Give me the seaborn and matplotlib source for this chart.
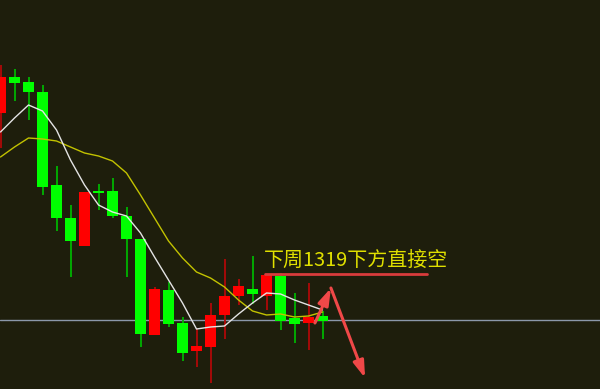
import matplotlib
matplotlib.use("Agg")
import matplotlib.pyplot as plt
import seaborn as sns
import pandas as pd
import numpy as np

# ---- data ----
opens  = [1359.25, 1368.25, 1367.0, 1364.5, 1341.25, 1333.0, 1326.0, 1339.75, 1339.75, 1333.5,
          1327.75, 1303.75, 1315.0, 1306.75, 1299.75, 1300.75, 1308.75, 1313.5, 1315.25, 1313.5,
          1318.5, 1308.0, 1306.75, 1308.5]
highs  = [1371.25, 1370.25, 1368.25, 1366.25, 1346.0, 1336.25, 1339.5, 1341.5, 1343.0, 1335.75,
          1327.75, 1315.75, 1317.0, 1308.25, 1305.25, 1311.75, 1322.75, 1317.75, 1323.5, 1318.75,
          1319.25, 1314.25, 1316.75, 1309.75]
lows   = [1350.5, 1362.25, 1357.5, 1338.75, 1329.75, 1318.25, 1326.0, 1335.0, 1333.0, 1318.25,
          1300.75, 1303.75, 1305.75, 1297.25, 1295.75, 1291.75, 1302.75, 1311.25, 1311.5, 1310.0,
          1305.0, 1301.75, 1300.0, 1302.75]
closes = [1368.25, 1366.75, 1364.5, 1340.75, 1333.0, 1327.25, 1339.5, 1339.25, 1333.5, 1327.75,
          1304.0, 1315.25, 1306.5, 1299.25, 1301.0, 1308.75, 1313.5, 1316.0, 1314.0, 1318.75,
          1307.25, 1306.5, 1308.25, 1307.25]
ma_fast = [1354.5, 1358.0, 1361.25, 1359.75, 1355.0, 1347.5, 1341.25, 1336.25, 1334.5, 1333.5,
           1329.25, 1323.25, 1317.5, 1311.75, 1305.25, 1305.75, 1306.0, 1309.0, 1311.75, 1314.25,
           1314.0, 1312.5, 1311.25, 1310.0]
ma_slow = [1348.25, 1350.75, 1353.0, 1352.75, 1352.25, 1350.75, 1349.25, 1348.5, 1347.25, 1344.25,
           1338.75, 1333.0, 1327.25, 1323.0, 1319.5, 1318.0, 1315.75, 1312.5, 1309.75, 1308.75,
           1309.0, 1308.25, 1308.5, 1309.5]
current_price = 1307.5
target_level = 1319
note_text = "下周1319下方直接空"
# arrow path (bar index, price): up then down
arrow_x = [22.46, 23.6, 26.04]
arrow_y = [1306.75, 1315.5, 1293.0]

BG = "#1e1e0c"
UP_BODY, UP_WICK = "#ff0000", "#b00808"
DN_BODY, DN_WICK = "#00ff00", "#00b400"

sns.set_style("dark", {"axes.facecolor": BG, "figure.facecolor": BG})
plt.rcParams['font.family'] = ['Noto Sans CJK SC', 'DejaVu Sans']

df = pd.DataFrame({"open": opens, "high": highs, "low": lows, "close": closes,
                   "ma_fast": ma_fast, "ma_slow": ma_slow})
df["idx"] = np.arange(len(df))
up = df["close"] >= df["open"]

fig = plt.figure(figsize=(6, 3.89), dpi=100, facecolor=BG)
ax = fig.add_axes([0, 0, 1, 1])
ax.set_facecolor(BG)

ax.axhline(current_price, color="#8b98aa", lw=1.0, zorder=1)

ax.vlines(df["idx"], df["low"], df["high"],
          colors=np.where(up, UP_WICK, DN_WICK), lw=1.3, zorder=2)
bottoms = np.minimum(df["open"], df["close"])
heights = np.maximum((df["open"] - df["close"]).abs(), 0.45)
ax.bar(df["idx"], heights, bottom=bottoms, width=0.72,
       color=np.where(up, UP_BODY, DN_BODY), linewidth=0, zorder=3)

sns.lineplot(data=df, x="idx", y="ma_slow", color="#c2c200", lw=1.0, ax=ax, zorder=4)
sns.lineplot(data=df, x="idx", y="ma_fast", color="#e4e4e4", lw=1.0, ax=ax, zorder=5)

# annotation
ax.text(18.8, target_level + 0.75, note_text, color="#e0e000", fontsize=14.4,
        ha="left", va="bottom", zorder=6)
ax.plot([18.9, 30.46], [target_level, target_level], color="#d83c3c", lw=2, zorder=6)

for i in range(len(arrow_x) - 1):
    ax.annotate("", xy=(arrow_x[i + 1], arrow_y[i + 1]), xytext=(arrow_x[i], arrow_y[i]),
                arrowprops=dict(arrowstyle="-|>,head_length=1.0,head_width=0.32",
                                color="#f04848", lw=2.2, shrinkA=0, shrinkB=0),
                zorder=7)

ax.set_xlim(-0.036, 42.82)
ax.set_ylim(1290.25, 1387.5)
ax.set_xlabel("")
ax.set_ylabel("")
ax.set_xticks([])
ax.set_yticks([])
for s in ax.spines.values():
    s.set_visible(False)
ax.grid(False)
if ax.get_legend():
    ax.get_legend().remove()

fig.savefig("out.png", dpi=100, facecolor=BG)
